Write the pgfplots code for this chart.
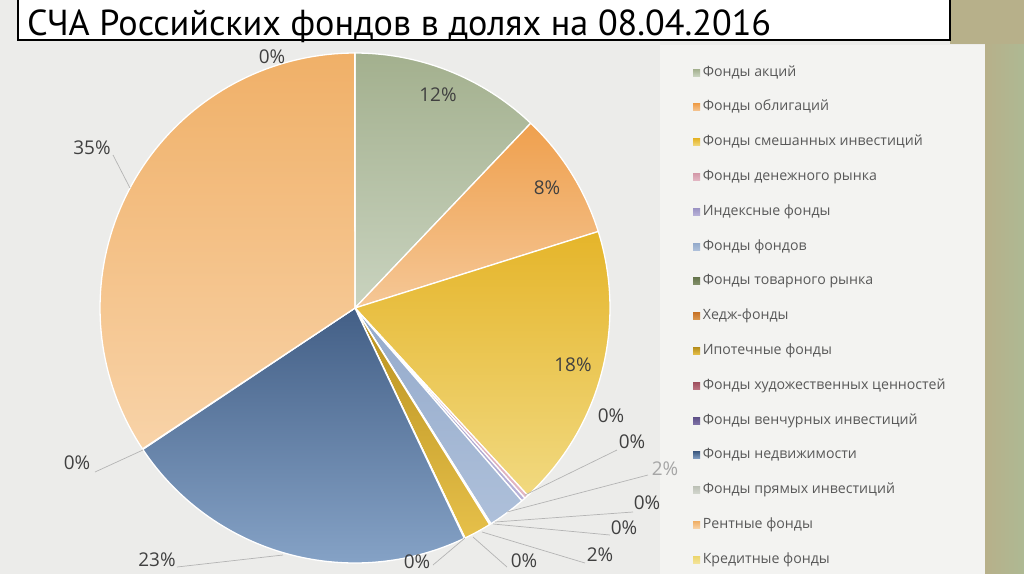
\documentclass[border=0pt]{standalone}
\usepackage{fontspec}
\setmainfont{Open Sans}
\newfontfamily\titlefont{PT Sans}
\usepackage{pgfplots}
\pgfplotsset{compat=1.18}

\definecolor{bg}{HTML}{ECECEA}
\definecolor{panel}{HTML}{F3F3F1}
\definecolor{stripA}{HTML}{B7B08A}
\definecolor{stripB}{HTML}{AEB993}
\definecolor{labtext}{HTML}{404040}
\definecolor{legtext}{HTML}{595959}
\definecolor{leader}{HTML}{B4B4B4}
% slice colours (top / bottom of the gradient)
\definecolor{acT}{HTML}{A3B08E}\definecolor{acB}{HTML}{C9D3BF}
\definecolor{obT}{HTML}{EFA04E}\definecolor{obB}{HTML}{F5C796}
\definecolor{smT}{HTML}{E5B52A}\definecolor{smB}{HTML}{F1D980}
\definecolor{deT}{HTML}{D49AAA}\definecolor{deB}{HTML}{E3B8C4}
\definecolor{inT}{HTML}{9C94C4}\definecolor{inB}{HTML}{B8B2D8}
\definecolor{ffT}{HTML}{94AACB}\definecolor{ffB}{HTML}{AEC0DA}
\definecolor{toT}{HTML}{68774F}\definecolor{toB}{HTML}{86936E}
\definecolor{heT}{HTML}{C87428}\definecolor{heB}{HTML}{DB9850}
\definecolor{ipT}{HTML}{B8901E}\definecolor{ipB}{HTML}{E6C04A}
\definecolor{huT}{HTML}{A0505F}\definecolor{huB}{HTML}{BC7482}
\definecolor{veT}{HTML}{5E5088}\definecolor{veB}{HTML}{7E72A6}
\definecolor{neT}{HTML}{435F86}\definecolor{neB}{HTML}{85A2C6}
\definecolor{prT}{HTML}{BEC2B8}\definecolor{prB}{HTML}{D4D7CF}
\definecolor{reT}{HTML}{F0B068}\definecolor{reB}{HTML}{F8D3A8}
\definecolor{krT}{HTML}{ECD66E}\definecolor{krB}{HTML}{F3E49C}

\begin{document}
\begin{tikzpicture}
\begin{axis}[
  at={(0,0)}, anchor=south west,
  scale only axis, width=1024bp, height=574bp,
  xmin=0, xmax=1024, ymin=0, ymax=574, y dir=reverse,
  hide axis, clip=false,
  legend entries={Фонды акций, Фонды облигаций, Фонды смешанных инвестиций,
    Фонды денежного рынка, Индексные фонды, Фонды фондов, Фонды товарного рынка,
    Хедж-фонды, Ипотечные фонды, Фонды художественных ценностей,
    Фонды венчурных инвестиций, Фонды недвижимости, Фонды прямых инвестиций,
    Рентные фонды, Кредитные фонды},
  legend cell align=left,
  legend image code/.code={\path[#1, draw=none] (0bp,-3.5bp) rectangle (7bp,3.5bp);
     \path (9bp,0bp);},
  legend style={at={(axis cs:690,64)}, anchor=north west, draw=none, fill=none,
    font=\fontsize{14.2}{17}\selectfont, text=legtext, row sep=21.8bp,
    nodes={inner sep=0pt, text height=10bp, text depth=3bp}},
]
% background
\fill[bg] (axis cs:0,0) rectangle (axis cs:1024,574);
\fill[panel] (axis cs:660,45) rectangle (axis cs:985,574);
\shade[left color=stripA, right color=stripB] (axis cs:985,0) rectangle (axis cs:1024,574);
\fill[stripA] (axis cs:950,0) rectangle (axis cs:1024,44);
% title
\draw[black, line width=1.5bp, fill=white] (axis cs:18,-2) rectangle (axis cs:950,40);
\node[anchor=base west, inner sep=0pt, font=\titlefont\fontsize{36.3}{39}\selectfont, text=black]
  at (axis cs:27,35.5) {СЧА Российских фондов в долях на 08.04.2016};

% pie slices: values in percent, clockwise from 12 o'clock
\xdef\cum{0}
\foreach \v/\ct/\cb in {12.1/acT/acB, 8.05/obT/obB, 18.0/smT/smB, 0.25/deT/deB,
   0.25/inT/inB, 2.4/ffT/ffB, 0.05/toT/toB, 0.05/heT/heB, 1.75/ipT/ipB,
   0.02/huT/huB, 0.03/veT/veB, 22.7/neT/neB, 0.03/prT/prB, 34.3/reT/reB, 0.02/krT/krB}{
  \pgfmathsetmacro\sa{\cum*3.6}
  \pgfmathsetmacro\newcum{\cum+\v}
  \pgfmathsetmacro\sb{\newcum*3.6}
  \xdef\cum{\newcum}
  \edef\tmp{\noexpand\addplot[draw=white, line width=1.3bp, line join=round,
     top color=\ct, bottom color=\cb, domain=\sa:\sb, samples=80]
     ({355+255*sin(x)},{308-255*cos(x)}) -- (axis cs:355,308) -- cycle;}
  \tmp
}

% leader lines
\begin{scope}[leader, line width=0.7bp]
\draw (axis cs:113,155) -- (axis cs:130,188);
\draw (axis cs:95,472) -- (axis cs:143,450);
\draw (axis cs:177,567) -- (axis cs:283,555);
\draw (axis cs:617,450) -- (axis cs:525,495);
\draw (axis cs:648,475) -- (axis cs:507,512);
\draw (axis cs:633,512) -- (axis cs:495,522);
\draw (axis cs:610,535) -- (axis cs:493,524);
\draw (axis cs:585,563) -- (axis cs:482,532);
\draw (axis cs:507,567) -- (axis cs:473,537);
\draw (axis cs:433,565) -- (axis cs:465,538);
\end{scope}

% data labels
\begin{scope}[every node/.style={font=\fontsize{19}{22}\selectfont, text=labtext, inner sep=0pt}]
\node at (axis cs:438,95) {12\%};
\node at (axis cs:547,188) {8\%};
\node at (axis cs:573,365) {18\%};
\node at (axis cs:611,416) {0\%};
\node at (axis cs:632,442) {0\%};
\node[text=gray!70] at (axis cs:665,469) {2\%};
\node at (axis cs:647,503) {0\%};
\node at (axis cs:624,528) {0\%};
\node at (axis cs:600,555) {2\%};
\node at (axis cs:524,561) {0\%};
\node at (axis cs:417,562) {0\%};
\node at (axis cs:157,560) {23\%};
\node at (axis cs:77,463) {0\%};
\node at (axis cs:92,148) {35\%};
\node at (axis cs:272,57) {0\%};
\end{scope}
\end{axis}
\pgfresetboundingbox
\path (0,0) rectangle (1024bp,574bp);
\end{tikzpicture}
\end{document}
